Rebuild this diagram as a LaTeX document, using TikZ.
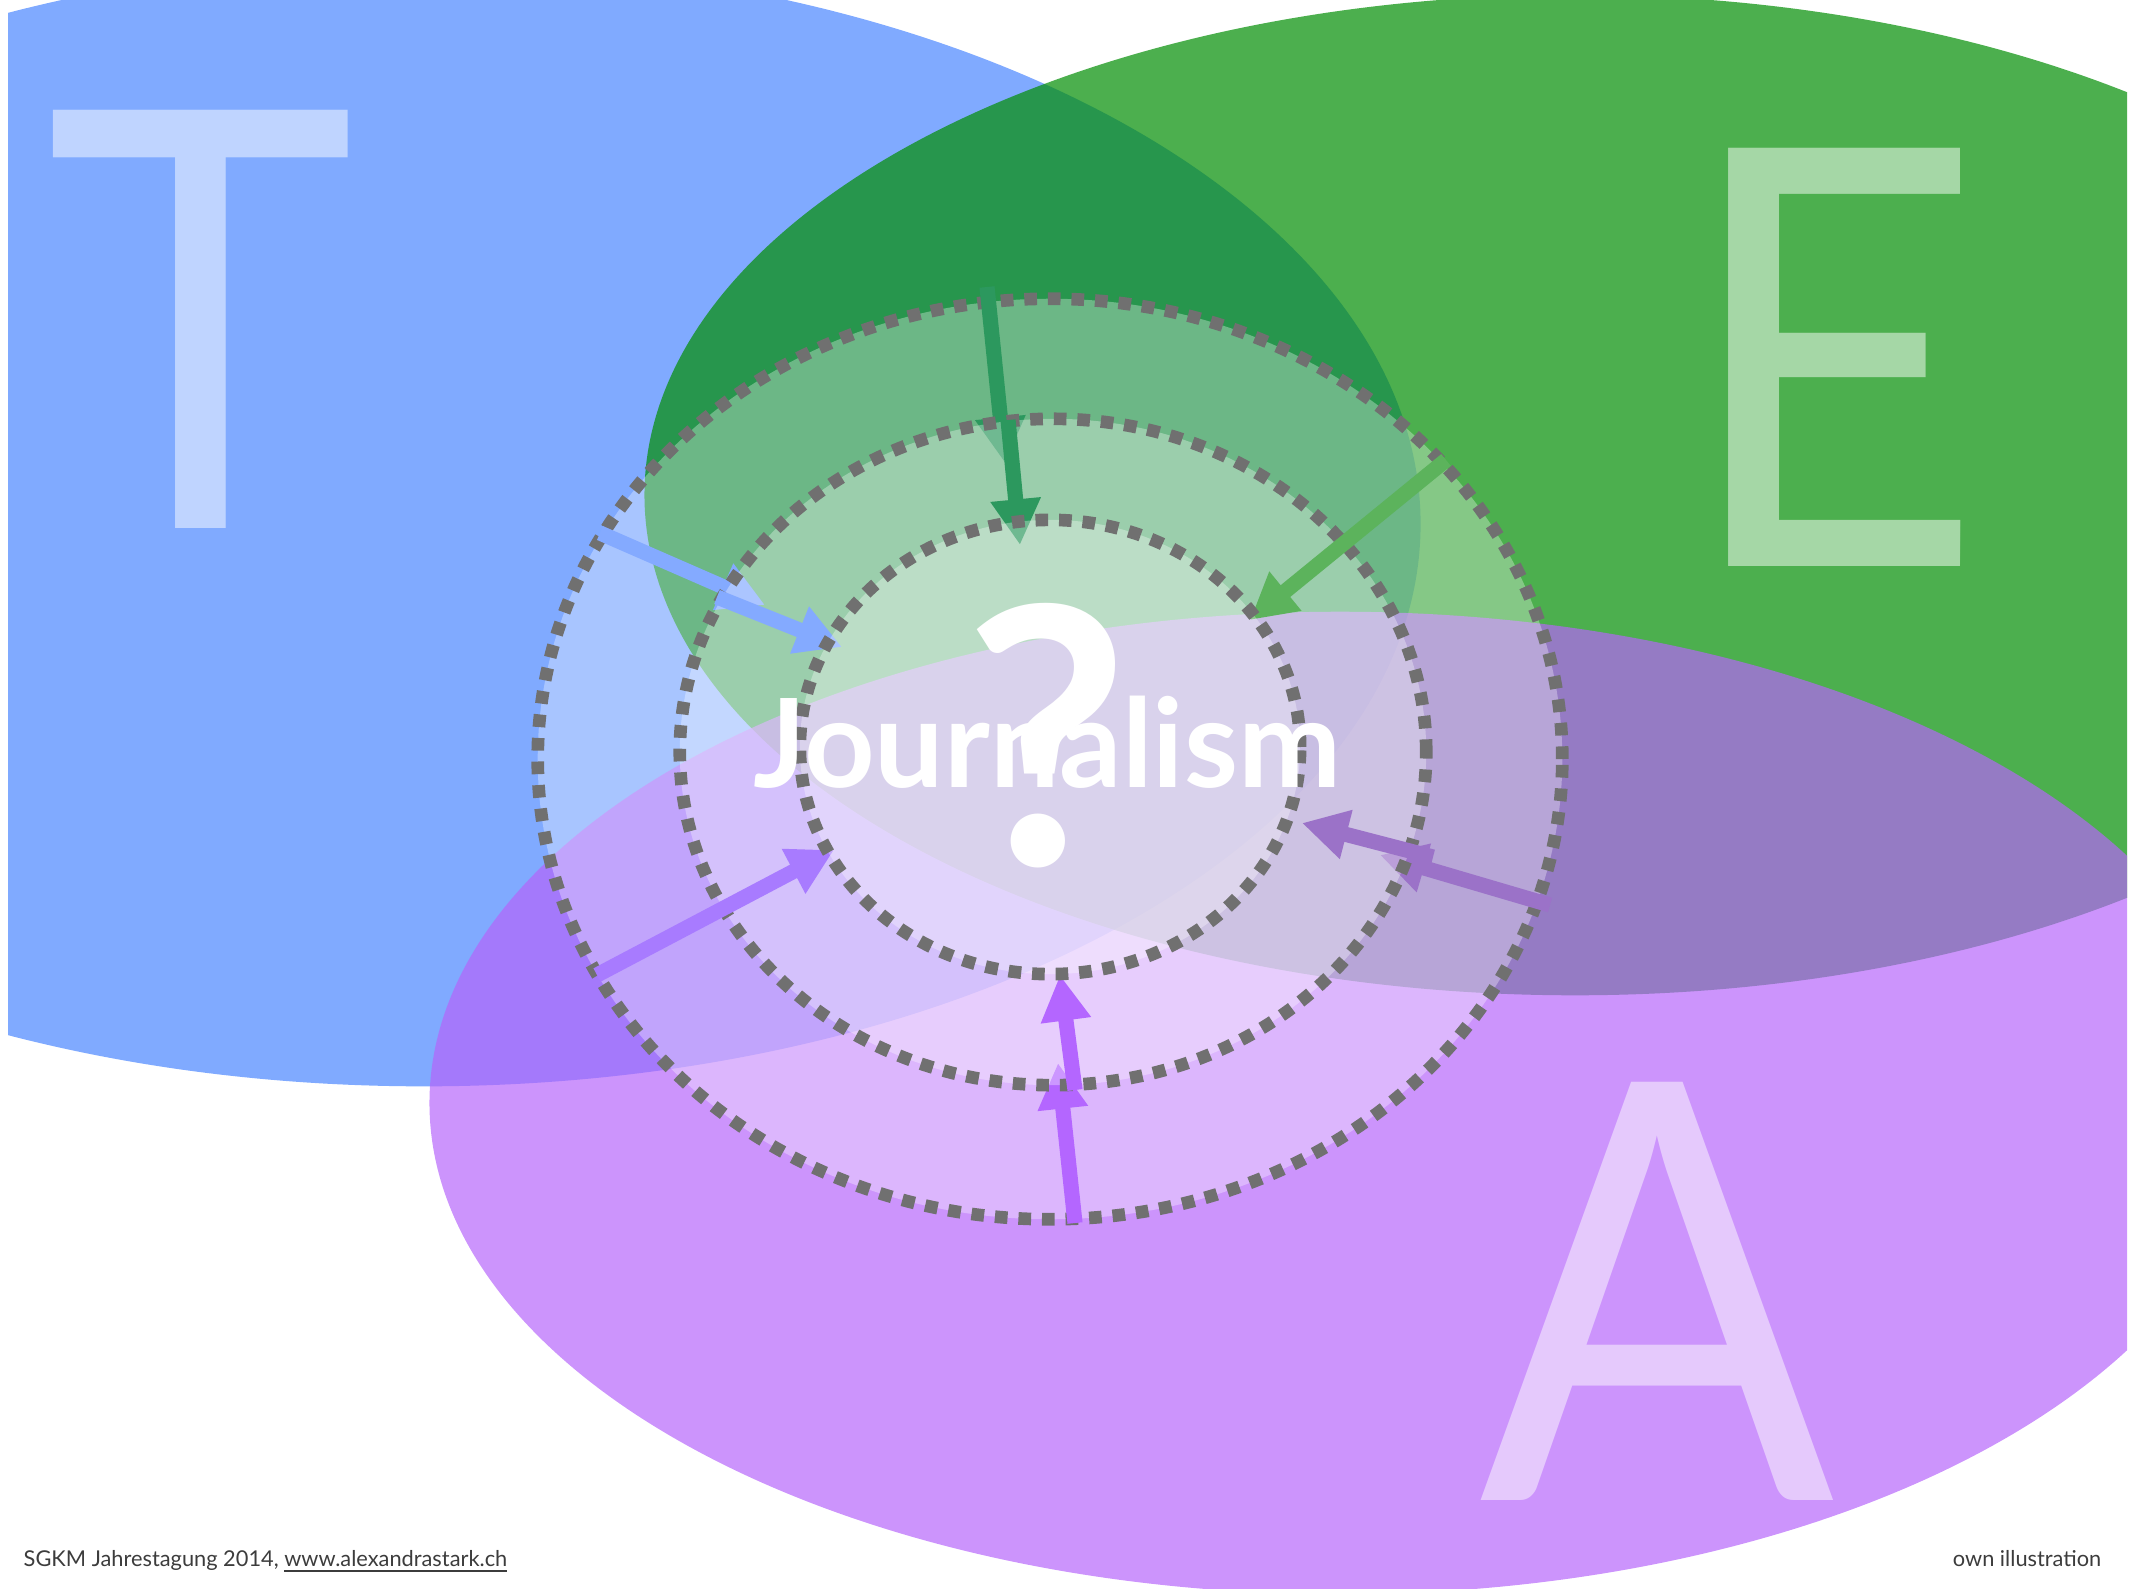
\documentclass[tikz,border=0pt]{standalone}
\usepackage{fontspec}
\setmainfont{Lato}
\newfontfamily\setletters[FakeStretch=0.9]{Lato}
\usetikzlibrary{arrows.meta,positioning}

\definecolor{setT}{RGB}{128,170,255}
\definecolor{setE}{RGB}{3,142,5}
\definecolor{setA}{RGB}{181,100,250}
\definecolor{ringgray}{RGB}{112,112,112}
\definecolor{arrT}{RGB}{132,170,255}
\definecolor{arrE}{RGB}{44,152,94}
\definecolor{arrEl}{RGB}{92,179,92}
\definecolor{arrA}{RGB}{168,123,255}
\definecolor{arrAr}{RGB}{155,114,200}
\definecolor{arrAb}{RGB}{180,102,255}
\definecolor{footgray}{RGB}{60,60,60}

\tikzset{
 ring/.style={draw=ringgray, line width=3.6pt, dash pattern=on 3.6pt off 3.1pt, fill=white, fill opacity=0.32},
 bigletter/.style={anchor=base, inner sep=0, text=white, text opacity=0.5, font=\setletters\fontsize{166pt}{166pt}\selectfont},
 push/.style={line width=4.3pt, -{Triangle[length=13pt, width=13.5pt]}},
 foot/.style={inner sep=0, text=footgray, font=\fontsize{6.2pt}{7pt}\selectfont}
}

\begin{document}
\begin{tikzpicture}[x=0.01cm, y=-0.01cm]
 \useasboundingbox (0,0) rectangle (2134,1588);

 \begin{scope}
 \clip (8,0) rectangle (2127,1588);
 % sets
 \fill[setT] (424,524) ellipse [x radius=9.96cm, y radius=5.62cm];
 \fill[setE, fill opacity=0.71] (1575,495) ellipse [x radius=9.3cm, y radius=5cm];
 \fill[setA, fill opacity=0.69] (1340,1103) ellipse [x radius=9.1cm, y radius=4.91cm];

 % set letters
 \node (lT) at (201,528) [bigletter] {T};
 \node (lE) at (1832,566) [bigletter] {E};
 \node (lA) at (1657,1500) [bigletter] {A};

 % arrow ends
 \coordinate (g0) at (987,287);  \coordinate (g1) at (1005,463);
 \coordinate (g2) at (1008,420); \coordinate (g3) at (1020,545);
 \coordinate (b0) at (600,533);  \coordinate (b1) at (765,605);
 \coordinate (b2) at (717,597);  \coordinate (b3) at (842,647);
 \coordinate (r0) at (1550,905); \coordinate (r1) at (1380,855);
 \coordinate (r2) at (1433,857); \coordinate (r3) at (1302,823);
 \coordinate (u0) at (1075,1223); \coordinate (u1) at (1058,1063);
 \coordinate (u2) at (1075,1090); \coordinate (u3) at (1060,975);
 \coordinate (e0) at (1446,460); \coordinate (e1) at (1250,620);
 \coordinate (l0) at (597,975);  \coordinate (l1) at (834,850);

 % outer ring
 \path[ring] (1050,759) ellipse [x radius=5.12cm, y radius=4.6cm];
 \draw[push, arrE] (g0) -- (g1);
 \draw[push, arrT] (b0) -- (b1);
 \draw[push, arrAr] (r0) -- (r1);
 \draw[push, arrAb] (u0) -- (u1);

 % middle ring
 \path[ring] (1053,752) ellipse [x radius=3.73cm, y radius=3.33cm];
 \draw[push, arrE] (g2) -- (g3);
 \draw[push, arrT] (b2) -- (b3);
 \draw[push, arrAr] (r2) -- (r3);
 \draw[push, arrAb] (u2) -- (u3);
 \draw[push, arrEl] (e0) -- (e1);
 \draw[push, arrA] (l0) -- (l1);

 % inner ring
 \path[ring] (1050,747) ellipse [x radius=2.5cm, y radius=2.27cm];

 % centre
 \node (word) at (1047,787) [anchor=base, inner sep=0, text=white, font=\fontsize{35pt}{35pt}\selectfont\bfseries] {Journalism};
 \node (quest) at (1047,865) [anchor=base, inner sep=0, text=white, font=\fontsize{102pt}{102pt}\selectfont\bfseries] {?};
 \end{scope}

 % footer
 \node (src) at (23,1566) [foot, anchor=base west] {SGKM Jahrestagung 2014, \underline{www.alexandrastark.ch}};
 \node (own) at (2102,1566) [foot, anchor=base east] {own illustration};
\end{tikzpicture}
\end{document}
